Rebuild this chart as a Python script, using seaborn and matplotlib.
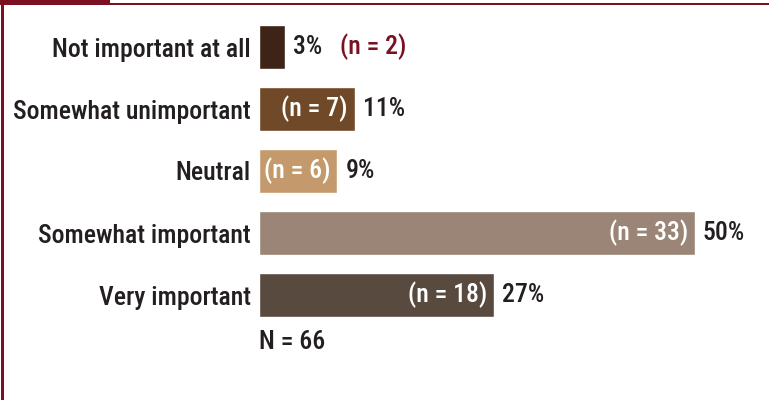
import matplotlib
matplotlib.use("Agg")
import matplotlib.pyplot as plt
import seaborn as sns
import pandas as pd
from matplotlib import font_manager as fm

categories = ["Not important at all", "Somewhat unimportant", "Neutral",
              "Somewhat important", "Very important"]
percent = [3, 11, 9, 50, 27]
counts = [2, 7, 6, 33, 18]
total_n = 66
colors = ["#3e2416", "#704a28", "#c49a6c", "#9a8576", "#594a40"]

sns.set_theme(style="white")
names = {f.name for f in fm.fontManager.ttflist}
fam = "Roboto Condensed" if "Roboto Condensed" in names else "Roboto"
plt.rcParams["font.family"] = [fam, "DejaVu Sans"]

TEXT = "#231f20"
MAROON = "#7a1020"
W = "medium"

fig = plt.figure(figsize=(7.69, 4.0), dpi=100)
ax = fig.add_axes([259 / 769, 0, 510 / 769, 1])

df = pd.DataFrame({"cat": categories, "pct": percent})
sns.barplot(data=df, x="pct", y="cat", hue="cat", palette=colors,
            legend=False, width=0.71, ax=ax, saturation=1, orient="h")

px = 8.72  # pixels per percent
ax.set_xlim(0, 510 / px)
ax.set_ylim((400 - 47) / 62, -47 / 62)
ax.set_xlabel("")
ax.set_ylabel("")
ax.set_xticks([])
for s in ax.spines.values():
    s.set_visible(False)
ax.tick_params(axis="y", length=0, pad=6)
fs = 18.5
for lab in ax.get_yticklabels():
    lab.set_fontsize(fs)
    lab.set_color(TEXT)
    lab.set_fontweight(W)

for i, (p, n) in enumerate(zip(percent, counts)):
    ax.annotate(f"{p}%", xy=(p, i), xytext=(8, 0), textcoords="offset pixels",
                ha="left", va="center", fontsize=fs, color=TEXT, fontweight=W)
    if i == 0:
        ax.annotate(f"(n = {n})", xy=(p, i), xytext=(55, 0), textcoords="offset pixels",
                    ha="left", va="center", fontsize=fs, color=MAROON, fontweight=W)
    else:
        ax.annotate(f"(n = {n})", xy=(p, i), xytext=(-7, 0), textcoords="offset pixels",
                    ha="right", va="center", fontsize=fs, color="white", fontweight=W)

ax.annotate(f"N = {total_n}", xy=(0, 4), xytext=(0, -47), textcoords="offset pixels",
            ha="left", va="center", fontsize=fs, color=TEXT, fontweight=W)

# frame decorations
fig.add_artist(plt.Rectangle((0, 1 - 5 / 400), 110 / 769, 5 / 400, transform=fig.transFigure,
                             color=MAROON, lw=0))
fig.add_artist(plt.Rectangle((110 / 769, 1 - 5 / 400), 659 / 769, 2.5 / 400,
                             transform=fig.transFigure, color=MAROON, lw=0))
fig.add_artist(plt.Rectangle((1 / 769, 0), 3 / 769, 1, transform=fig.transFigure,
                             color=MAROON, lw=0))

fig.savefig("out.png", dpi=100)
